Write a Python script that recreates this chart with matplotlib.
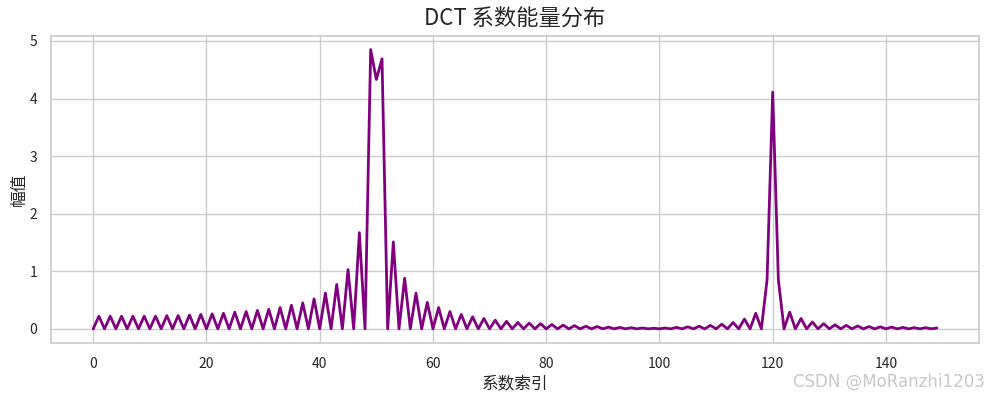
import numpy as np
import matplotlib
matplotlib.use('Agg')
import matplotlib.pyplot as plt
import seaborn as sns

# DCT 系数幅值
coef_index = list(range(150))
magnitude = [
    0.00, 0.22, 0.00, 0.22, 0.00, 0.22, 0.00, 0.22, 0.00, 0.22,
    0.00, 0.22, 0.00, 0.23, 0.00, 0.23, 0.00, 0.24, 0.00, 0.25,
    0.00, 0.26, 0.00, 0.27, 0.00, 0.29, 0.00, 0.30, 0.00, 0.32,
    0.00, 0.34, 0.00, 0.37, 0.00, 0.41, 0.00, 0.45, 0.00, 0.52,
    0.00, 0.62, 0.00, 0.77, 0.00, 1.03, 0.00, 1.67, 0.00, 4.85,
    4.33, 4.69, 0.00, 1.51, 0.00, 0.88, 0.00, 0.62, 0.00, 0.46,
    0.00, 0.37, 0.00, 0.30, 0.00, 0.25, 0.00, 0.21, 0.00, 0.18,
    0.00, 0.15, 0.00, 0.13, 0.00, 0.11, 0.00, 0.10, 0.00, 0.09,
    0.00, 0.075, 0.00, 0.065, 0.00, 0.055, 0.00, 0.045, 0.00, 0.04,
    0.00, 0.03, 0.00, 0.025, 0.00, 0.02, 0.00, 0.015, 0.00, 0.01,
    0.00, 0.015, 0.00, 0.025, 0.00, 0.035, 0.00, 0.045, 0.00, 0.06,
    0.00, 0.08, 0.00, 0.11, 0.00, 0.17, 0.00, 0.27, 0.00, 0.85,
    4.11, 0.85, 0.00, 0.29, 0.00, 0.18, 0.00, 0.12, 0.00, 0.09,
    0.00, 0.07, 0.00, 0.06, 0.00, 0.05, 0.00, 0.04, 0.00, 0.035,
    0.00, 0.03, 0.00, 0.025, 0.00, 0.02, 0.00, 0.02, 0.00, 0.015,
]

sns.set_theme(style='whitegrid')
plt.rcParams['font.family'] = ['Noto Sans CJK SC', 'DejaVu Sans']
plt.rcParams['axes.unicode_minus'] = False


def plot_dct(x, y):
    fig = plt.figure(figsize=(9.91, 4.0), dpi=100)
    ax = fig.add_axes([0.0515, 0.143, 0.9365, 0.768])
    ax.plot(x, y, color='purple', linewidth=2)
    ax.set_title('DCT 系数能量分布', fontsize=16, fontweight='medium', pad=7)
    ax.set_xlabel('系数索引', fontsize=12, labelpad=3)
    ax.set_ylabel('幅值', fontsize=12, labelpad=1)
    ax.tick_params(labelsize=10, pad=4)
    for s in ax.spines.values():
        s.set_color('#cccccc')
        s.set_linewidth(1.25)
    fig.text(0.994, 0.022, 'CSDN @MoRanzhi1203', ha='right', va='bottom',
             fontsize=12, color='#c8c8c8', family=['DejaVu Sans'])
    fig.savefig('out.png', dpi=100)


if __name__ == '__main__':
    plot_dct(coef_index, magnitude)
